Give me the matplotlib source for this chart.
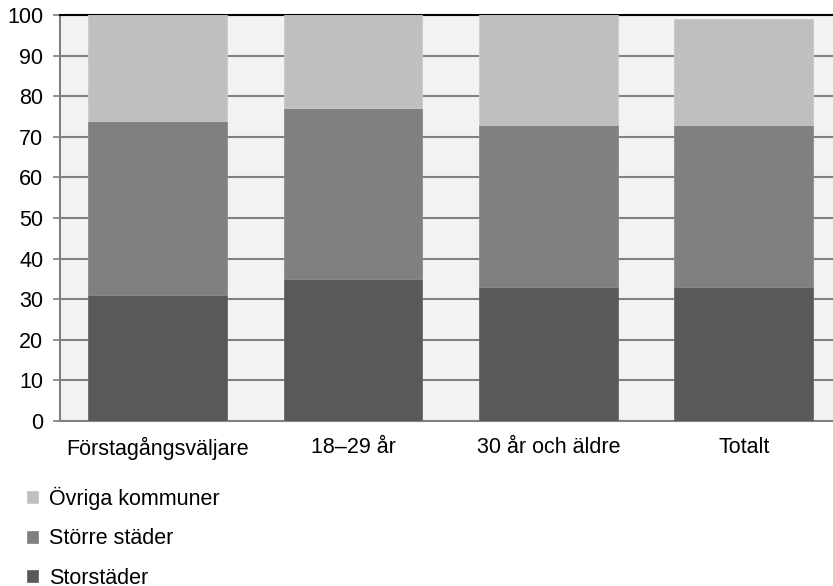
import matplotlib.pyplot as plt
import numpy as np

categories = ["Förstagångsväljare", "18–29 år", "30 år och äldre", "Totalt"]
storstader = [31, 35, 33, 33]
storre_stader = [43, 42, 40, 40]
ovriga = [26, 23, 27, 26]
yticks = list(range(0, 101, 10))

plt.rcParams['font.family'] = ['Liberation Sans', 'DejaVu Sans']

fig = plt.figure(figsize=(8.33, 5.86), dpi=100)
ax = fig.add_axes([60 / 833, 1 - 421 / 586, 1 - 60 / 833, 406 / 586])
ax.set_facecolor("#f2f2f2")

x = np.arange(len(categories))
w = 0.71
b1 = ax.bar(x, storstader, w, color="#595959", edgecolor="#6a6a6a", linewidth=0.6, zorder=3)
b2 = ax.bar(x, storre_stader, w, bottom=storstader, color="#808080",
            edgecolor="#8c8c8c", linewidth=0.6, zorder=3)
bot = np.array(storstader) + np.array(storre_stader)
b3 = ax.bar(x, ovriga, w, bottom=bot, color="#bfbfbf", edgecolor="#cacaca",
            linewidth=0.6, zorder=3)

ax.set_xlim(-0.5, 3.457)
ax.set_ylim(0, 100)
ax.set_yticks(yticks)
ax.tick_params(axis="y", length=5, color="#808080", width=1.2, labelsize=15.5, pad=7)
ax.tick_params(axis="x", length=0, labelsize=15.5, pad=11.5)
ax.set_xticks(x)
ax.set_xticklabels(categories)
ax.yaxis.grid(True, color="#808080", linewidth=1.5, zorder=0)

for s in ["left", "bottom"]:
    ax.spines[s].set_color("#808080")
    ax.spines[s].set_linewidth(1.5)
ax.spines["top"].set_color("black")
ax.spines["top"].set_linewidth(1.5)
ax.spines["right"].set_visible(False)

fig.legend([b3, b2, b1], ["Övriga kommuner", "Större städer", "Storstäder"],
           loc="upper left", bbox_to_anchor=(16 / 833, 1 - 476 / 586),
           frameon=False, fontsize=15.5, handlelength=0.5, handleheight=0.5,
           handletextpad=0.55, labelspacing=0.86, borderpad=0)

fig.savefig("out.png", dpi=100)
